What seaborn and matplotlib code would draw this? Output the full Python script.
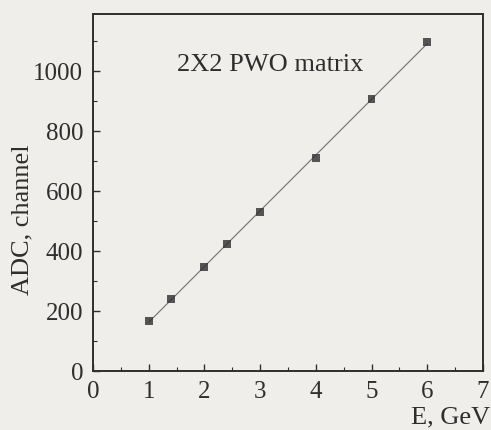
import matplotlib
matplotlib.use("Agg")
import matplotlib.pyplot as plt
import seaborn as sns
import numpy as np
import pandas as pd
from matplotlib.ticker import MultipleLocator

energy_gev = [1.0, 1.4, 2.0, 2.4, 3.0, 4.0, 5.0, 6.0]
adc_channel = [167, 240, 348, 422, 529, 711, 907, 1098]
x_ticks = [0, 1, 2, 3, 4, 5, 6, 7]
y_ticks = [0, 200, 400, 600, 800, 1000]
title_text = "2X2 PWO matrix"
x_label = "E, GeV"
y_label = "ADC, channel"

df = pd.DataFrame({"E": energy_gev, "ADC": adc_channel})

sns.set_theme(style="ticks")
plt.rcParams["font.family"] = ["Liberation Serif", "DejaVu Serif"]

paper = "#efeeeb"
ink = "#2e2e2e"

fig = plt.figure(figsize=(4.91, 4.30), dpi=100, facecolor=paper)
ax = fig.add_axes([0.1894, 0.1372, 0.7943, 0.8302])
ax.set_facecolor(paper)

sns.regplot(data=df, x="E", y="ADC", ax=ax, ci=None, truncate=True,
            marker="s",
            scatter_kws=dict(s=32, color=ink, edgecolor="none", zorder=3),
            line_kws=dict(color="#707070", lw=0.8, zorder=2))

ax.set_xlim(0, 7)
ax.set_ylim(0, 1190)
ax.set_xticks(x_ticks)
ax.set_yticks(y_ticks)
ax.xaxis.set_minor_locator(MultipleLocator(0.5))
ax.yaxis.set_minor_locator(MultipleLocator(100))
ax.tick_params(which="both", direction="in", top=False, right=False,
               colors=ink, labelcolor=ink, labelsize=18)
ax.tick_params(which="major", length=5, width=1.0, pad=7)
ax.tick_params(which="minor", length=3, width=0.8)
for s in ax.spines.values():
    s.set_visible(True)
    s.set_color(ink)
    s.set_linewidth(1.4)

ax.set_xlabel(x_label, fontsize=19, color=ink, ha="right", va="center")
ax.xaxis.set_label_coords(1.018, -0.13)
ax.set_ylabel(y_label, fontsize=19, color=ink, va="center")
ax.yaxis.set_label_coords(-0.182, 0.423)

ax.text(0.215, 0.857, title_text, transform=ax.transAxes, fontsize=19,
        color=ink, ha="left", va="center")

fig.savefig("out.png", dpi=100, facecolor=paper)
